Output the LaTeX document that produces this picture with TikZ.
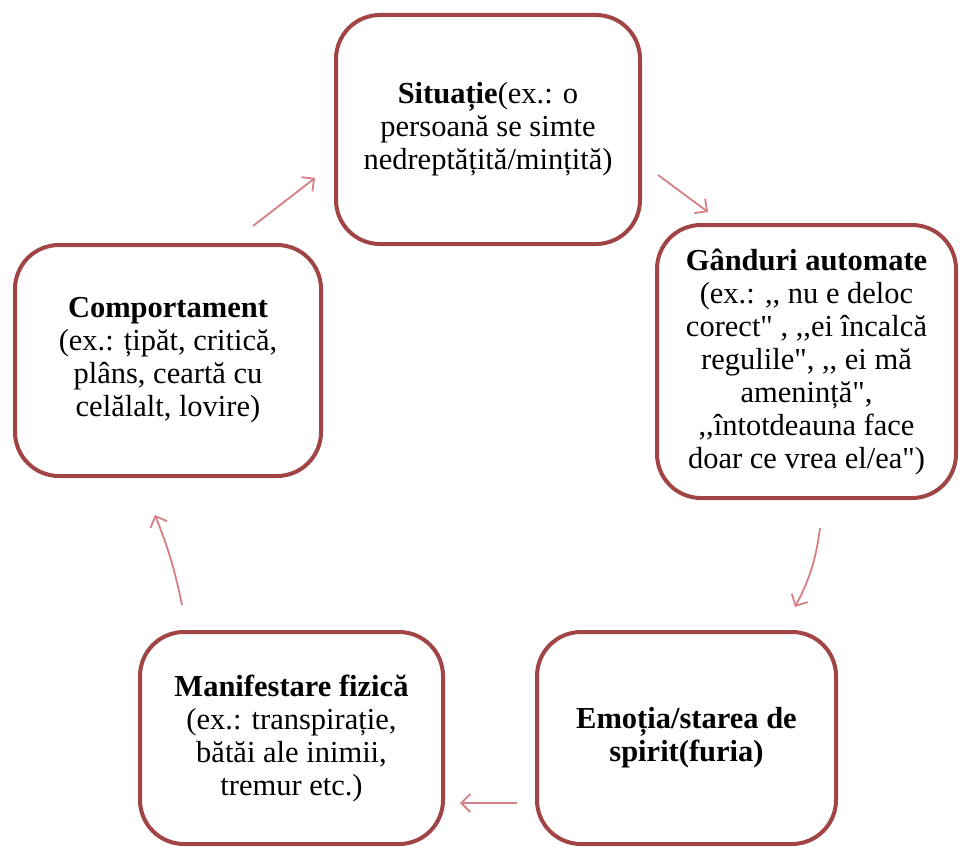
\documentclass[tikz,border=0pt]{standalone}
\usepackage{fontspec}
\newfontfamily\rofont{Liberation Serif}
\usetikzlibrary{arrows.meta}
\definecolor{boxred}{RGB}{160,68,70}
\definecolor{arrowred}{RGB}{214,128,134}
\begin{document}
\begin{tikzpicture}[x=1pt,y=-1pt,
  box/.style={draw=boxred, line width=4pt, rounded corners=44pt, fill=white,
    align=center, inner sep=0pt, font=\rofont\fontsize{30.5}{33}\selectfont, text=black},
  cyc/.style={draw=arrowred, line width=1.8pt,
    -{Straight Barb[length=9pt,width=18pt,line width=1.8pt]}}]
\useasboundingbox[fill=white] (0,0) rectangle (960,848);

\node[box, minimum width=304pt, minimum height=229pt] (sit) at (488,129.5)
  {\textbf{Situație}(ex.: o\\persoană se simte\\nedreptățită/mințită)};
\node[box, minimum width=299pt, minimum height=273pt] (gand) at (806.5,361.5)
  {\textbf{Gânduri automate}\\(ex.: ,, nu e deloc\\corect" , ,,ei încalcă\\regulile", ,, ei mă\\amenință",\\,,întotdeauna face\\doar ce vrea el/ea")};
\node[box, minimum width=306pt, minimum height=231pt] (comp) at (168,360.5)
  {\textbf{Comportament}\\(ex.: țipăt, critică,\\plâns, ceartă cu\\celălalt, lovire)};
\node[box, minimum width=303pt, minimum height=212pt] (fiz) at (291.5,738)
  {\textbf{Manifestare fizică}\\(ex.: transpirație,\\bătăi ale inimii,\\tremur etc.)};
\node[box, minimum width=299pt, minimum height=212pt] (emo) at (686.5,738)
  {\textbf{Emoția/starea de}\\\textbf{spirit(furia)}};

\coordinate (a1s) at (253,226); \coordinate (a1e) at (315,178);
\coordinate (a2s) at (658,175); \coordinate (a2e) at (708,212);
\coordinate (a3s) at (820,528); \coordinate (a3e) at (795,607);
\coordinate (a4s) at (517,803); \coordinate (a4e) at (460,803);
\coordinate (a5s) at (182,605); \coordinate (a5e) at (155,515);

\draw[cyc] (a1s) -- (a1e);
\draw[cyc] (a2s) -- (a2e);
\draw[cyc] (a3s) to[bend left=10] (a3e);
\draw[cyc] (a4s) -- (a4e);
\draw[cyc] (a5s) to[bend right=5] (a5e);
\end{tikzpicture}
\end{document}
